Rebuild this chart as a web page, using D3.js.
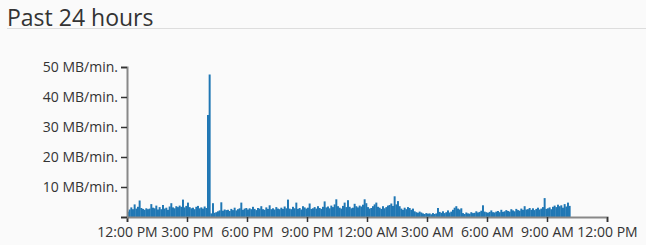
<!DOCTYPE html>
<html>
<head>
    <title>Past 24 hours</title>
    <script src="https://d3js.org/d3.v7.min.js"></script>
    <style>
        body { margin: 0; background: #fafafa; font-family: "Open Sans", sans-serif; }
        .axis text { font-family: "Open Sans", sans-serif; font-size: 14px; fill: #333; }
        .axis .domain { stroke: #888; stroke-width: 2px; }
        .axis .tick line { stroke: #333; stroke-width: 1.5px; }
    </style>
</head>
<body>
    <div id="chart"></div>
    <script>
        // window start and bin size
        var startTime = new Date(2024, 0, 1, 12, 0);
        var endTime = new Date(2024, 0, 2, 12, 0);
        var binMinutes = 5;

        // MB per minute, one value per 5 minute bin, a row per hour
        var traffic = [
            1.8, 2.5, 3.2, 2.6, 4.2, 2.8, 3.4, 5.5, 3.0, 2.7, 2.4, 2.9,
            2.6, 2.8, 4.3, 3.1, 2.9, 3.8, 2.5, 3.3, 2.6, 4.0, 2.8, 3.1,
            2.4, 3.5, 4.6, 3.2, 2.9, 3.6, 3.3, 3.8, 3.4, 5.8, 3.2, 3.7,
            4.8, 3.3, 2.9, 3.1, 2.6, 3.4, 3.7, 2.9, 3.2, 2.8, 3.5, 3.0,
            34, 47.5, 1.2, 4.6, 1.4, 1.6, 1.9, 2.2, 4.9, 2.1, 2.5, 2.3,
            2.4, 2.0, 2.7, 2.3, 3.1, 2.2, 2.6, 2.9, 4.8, 2.4, 2.8, 3.0,
            2.5, 2.9, 2.6, 3.4, 2.7, 2.3, 3.0, 2.8, 3.6, 2.6, 2.4, 3.2,
            2.7, 3.9, 2.6, 2.9, 2.5, 3.3, 2.8, 2.6, 3.1, 2.7, 3.5, 2.9,
            5.8, 2.8, 2.6, 3.4, 2.9, 4.8, 2.7, 3.0, 2.5, 3.6, 3.2, 2.8,
            3.1, 4.5, 2.7, 2.9, 3.3, 2.8, 3.6, 3.0, 2.7, 3.4, 5.2, 3.2,
            3.5, 2.9, 3.8, 3.3, 4.2, 5.9, 3.6, 3.1, 2.8, 3.7, 4.8, 3.3,
            5.6, 3.4, 2.9, 3.1, 4.4, 3.6, 3.2, 3.8, 3.5, 4.1, 5.9, 4.6,
            3.3, 2.8, 3.0, 3.6, 4.2, 4.8, 3.4, 3.1, 2.7, 3.6, 2.9, 3.3,
            3.8, 4.0, 4.5, 3.7, 6.9, 4.2, 5.3, 3.6, 2.8, 2.4, 3.1, 2.6,
            3.3, 3.0, 2.4, 2.8, 1.9, 1.6, 1.4, 1.8, 1.5, 1.2, 1.0, 1.3,
            1.1, 1.2, 0.9, 1.3, 1.0, 1.2, 3.0, 1.7, 1.4, 1.9, 1.3, 1.6,
            2.2, 1.5, 1.8, 2.4, 3.1, 3.6, 2.8, 2.5, 2.9, 1.3, 1.0, 1.5,
            1.2, 1.1, 1.6, 1.3, 1.4, 1.9, 1.5, 1.7, 2.1, 3.9, 1.8, 1.6,
            1.4, 1.7, 2.2, 1.6, 1.5, 1.8, 2.0, 1.6, 2.4, 1.7, 1.9, 2.3,
            2.0, 1.8, 2.6, 2.2, 1.9, 2.7, 2.3, 2.1, 2.8, 2.4, 3.6, 2.5,
            2.6, 3.0, 2.4, 2.9, 2.3, 2.7, 3.1, 2.5, 2.8, 3.3, 6.3, 2.7,
            2.9, 3.2, 2.6, 3.4, 3.8, 3.3, 4.1, 3.6, 3.9, 3.1, 4.3, 3.5, 4.8, 3.7
        ];

        var yTicks = [0, 10, 20, 30, 40, 50];

        var width = 646, height = 245;
        var margin = { top: 67, right: 39, bottom: 28, left: 127 };

        var svg = d3.select("#chart")
            .append("svg")
            .attr("width", width)
            .attr("height", height);

        // title and rule
        svg.append("text")
            .attr("x", 7)
            .attr("y", 26)
            .style("font-family", "'Open Sans', sans-serif")
            .style("font-size", "23px")
            .style("fill", "#333")
            .text("Past 24 hours");
        svg.append("line")
            .attr("x1", 7).attr("x2", width)
            .attr("y1", 28.5).attr("y2", 28.5)
            .style("stroke", "#ddd");

        var x = d3.scaleTime()
            .domain([startTime, endTime])
            .range([margin.left, width - margin.right]);

        var y = d3.scaleLinear()
            .domain([0, 50])
            .range([height - margin.bottom, margin.top]);

        var data = traffic.map(function (v, i) {
            var t0 = d3.timeMinute.offset(startTime, i * binMinutes);
            return { t0: t0, t1: d3.timeMinute.offset(t0, binMinutes), v: v };
        });

        // bars
        svg.append("g")
            .selectAll("rect")
            .data(data)
            .enter()
            .append("rect")
            .attr("x", function (d) { return x(d.t0); })
            .attr("width", function (d) { return x(d.t1) - x(d.t0) + 0.3; })
            .attr("y", function (d) { return y(d.v); })
            .attr("height", function (d) { return y(0) - y(d.v); })
            .style("fill", "#1f77b4");

        // axes
        svg.append("g")
            .attr("class", "axis")
            .attr("transform", "translate(0," + y(0) + ")")
            .call(d3.axisBottom(x)
                .ticks(d3.timeHour.every(3))
                .tickSize(5)
                .tickSizeOuter(5)
                .tickPadding(5)
                .tickFormat(d3.timeFormat("%-I:%M %p")));

        svg.append("g")
            .attr("class", "axis")
            .attr("transform", "translate(" + margin.left + ",0)")
            .call(d3.axisLeft(y)
                .tickValues(yTicks)
                .tickSize(6)
                .tickSizeOuter(6)
                .tickPadding(3)
                .tickFormat(function (d) { return d === 0 ? "" : d + " MB/min."; }));
    </script>
</body>
</html>
